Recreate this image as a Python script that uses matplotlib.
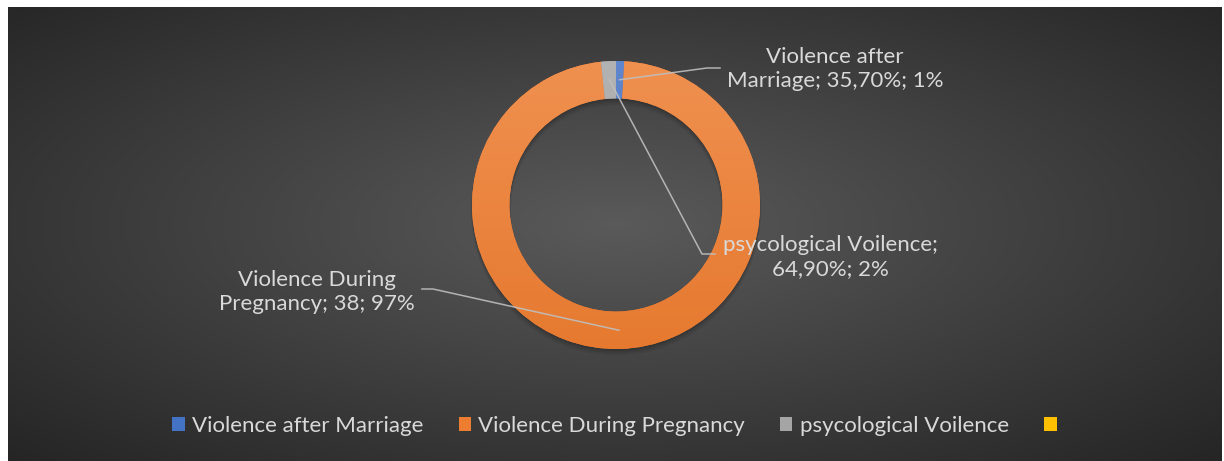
import numpy as np
import matplotlib
matplotlib.use("Agg")
import matplotlib.pyplot as plt
from matplotlib.patches import Patch, Wedge
from matplotlib.lines import Line2D
from matplotlib.colors import to_rgb

# chart data
categories = ["Violence after Marriage", "Violence During Pregnancy", "psycological Voilence", ""]
values = [0.357, 38, 0.649, 0]
value_is_pct = [True, False, True, False]
colors = ["#4472C4", "#ED7D31", "#A5A5A5", "#FFC000"]

W, H = 1224, 461
TEXT = "#D9D9D9"
LINE = "#BFBFBF"

plt.rcParams["font.family"] = ["Lato", "DejaVu Sans"]


def px(x, y):
    """pixel position (from top-left) to figure fraction"""
    return x / W, 1 - y / H


def fmt_value(v, pct):
    if pct:
        return f"{v * 100:.2f}".replace(".", ",") + "%"
    return f"{v:g}"


fig = plt.figure(figsize=(W / 100, H / 100), dpi=100)
fig.patch.set_facecolor("white")

# background with radial gradient
bg = fig.add_axes([8 / W, 0, (1222 - 8) / W, (H - 7) / H])
bg.set_axis_off()
gx, gy = np.meshgrid(np.linspace(8, 1222, 600), np.linspace(7, H, 240))
d = np.sqrt(((gx - 616) / 870) ** 2 + ((gy - 225) / 330) ** 2)
shade = (0x5a - np.clip(d, 0, 1) * (0x5a - 0x25)) / 255
bg.imshow(np.dstack([shade] * 3), extent=[0, 1, 0, 1], aspect="auto", origin="upper")

# donut
cx, cy, r = 616, 205, 144
box = 150
ax = fig.add_axes([(cx - box) / W, (H - cy - box) / H, 2 * box / W, 2 * box / H])
ax.set_axis_off()
ring = 0.26

# soft shadow under the ring
for k, a in enumerate([0.10, 0.08, 0.06]):
    ax.add_patch(Wedge((0, -0.015 - 0.01 * k), 1.0 + 0.005 * k, 0, 360, width=ring + 0.01 * k,
                       facecolor="black", alpha=a, edgecolor="none"))

wedges, _ = ax.pie(values, colors=colors, startangle=90, counterclock=False, radius=1,
                   wedgeprops=dict(width=ring, edgecolor="none"))

# vertical shading on each slice, lighter on top
t = np.linspace(1, 0, 200)[:, None, None] * np.ones((1, 2, 1))
for w, c in zip(wedges, colors):
    base = np.array(to_rgb(c))[None, None, :]
    top = base * 0.85 + 0.15
    bottom = base * 0.97
    img = np.clip(bottom + (top - bottom) * t, 0, 1)
    im = ax.imshow(img, extent=[-1, 1, -1, 1], aspect="auto", zorder=w.get_zorder() + 0.1)
    im.set_clip_path(w)

lim = box / r
ax.set_xlim(-lim, lim)
ax.set_ylim(-lim, lim)

total = sum(values)
label_pos = [(835, 69), (317, 292), (830, 257)]
label_text = [
    "Violence after\nMarriage; {}; {}%",
    "Violence During\nPregnancy; {}; {}%",
    "psycological Voilence;\n{}; {}%",
]
leader = [
    [(707, 68), (720, 68)],
    [(433, 289), (422, 289)],
    [(702, 254), (715, 254)],
]

for i in range(3):
    w = wedges[i]
    mid = np.deg2rad((w.theta1 + w.theta2) / 2)
    rr = 1 - ring / 2
    ax_x, ax_y = ax.transData.transform((rr * np.cos(mid), rr * np.sin(mid)))
    anchor = (ax_x, H - ax_y)
    pts = [anchor] + leader[i]
    fig.add_artist(Line2D([px(*p)[0] for p in pts], [px(*p)[1] for p in pts],
                          color=LINE, lw=1.1, alpha=0.9, transform=fig.transFigure))
    share = round(values[i] / total * 100)
    txt = label_text[i].format(fmt_value(values[i], value_is_pct[i]), share)
    fig.text(*px(*label_pos[i]), txt, color=TEXT, fontsize=16, ha="center", va="center",
             multialignment="center", linespacing=1.25)

handles = [Patch(facecolor=c, edgecolor="none") for c in colors]
leg = fig.legend(handles, categories, loc="center", bbox_to_anchor=px(618, 426), ncol=4,
                 frameon=False, fontsize=16, handlelength=0.55, handleheight=0.55,
                 handletextpad=0.32, columnspacing=1.6)
for t in leg.get_texts():
    t.set_color(TEXT)

fig.savefig("out.png", dpi=100, facecolor=fig.get_facecolor())
